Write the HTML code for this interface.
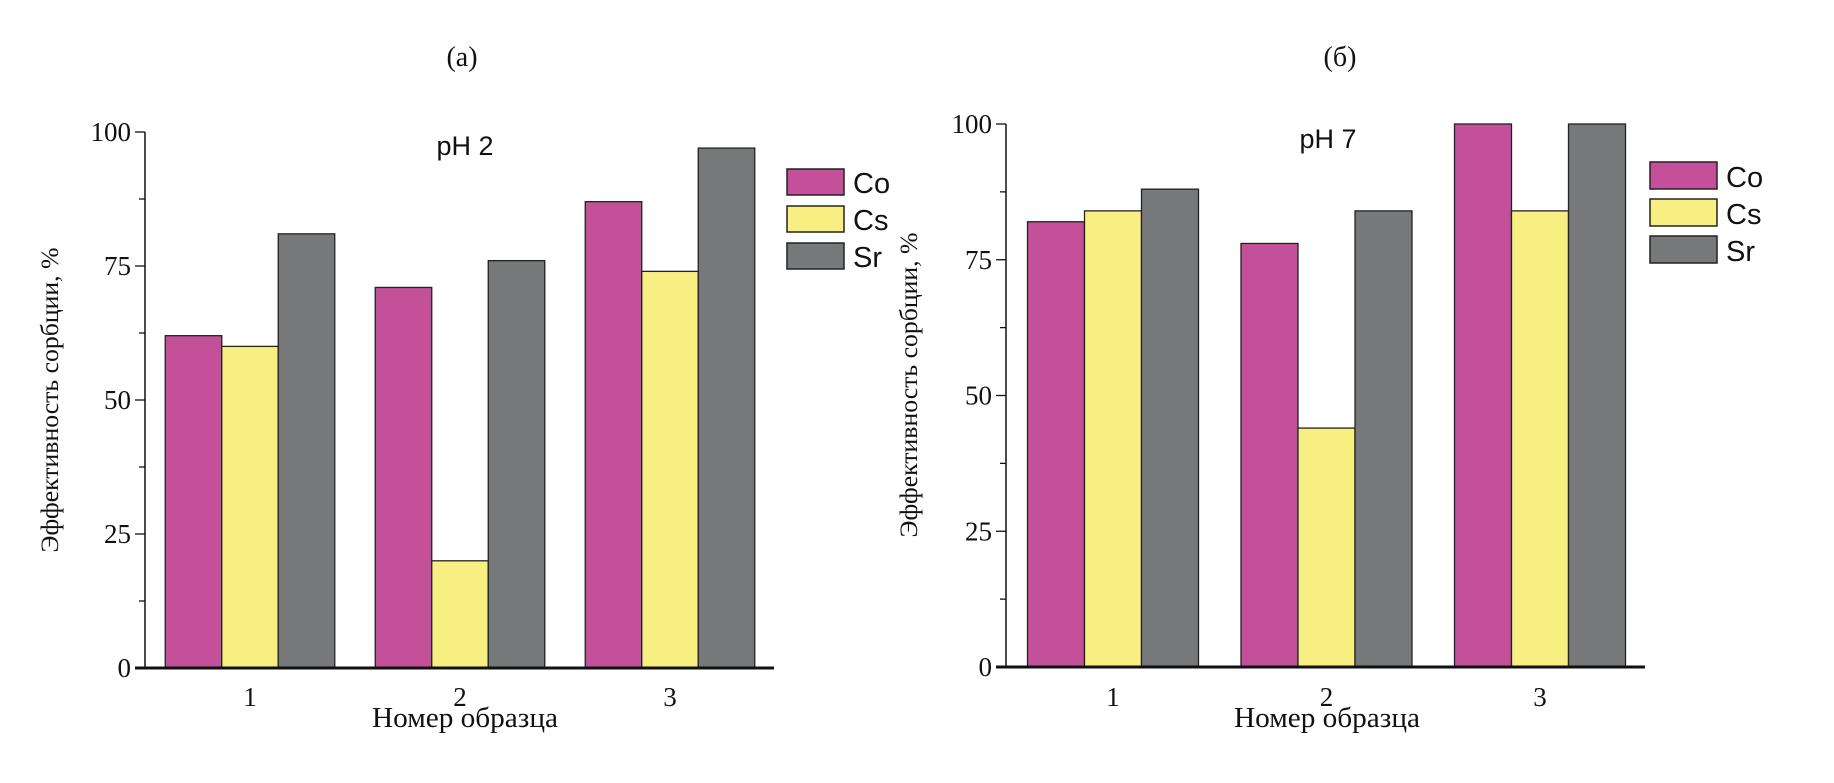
<!DOCTYPE html>
<html><head><meta charset="utf-8"><style>
body{margin:0;background:#fff;}
svg{display:block;}
text{font-family:"Liberation Serif",serif;fill:#111;}
.sans{font-family:"Liberation Sans",sans-serif;}
</style></head><body>
<svg id="fig" width="1834" height="783" viewBox="0 0 1834 783"></svg>
<script>
const categories = ["1","2","3"];
const seriesNames = ["Co","Cs","Sr"];
const coA = [62,71,87];
const csA = [60,20,74];
const srA = [81,76,97];
const coB = [82,78,100];
const csB = [84,44,84];
const srB = [88,84,100];
const yTicks = [0,25,50,75,100];
const colors = ["#c5509a","#f7ef82","#77787a"];

const NS="http://www.w3.org/2000/svg";
const svg=document.getElementById('fig');
function mk(tag,attrs,parent){const e=document.createElementNS(NS,tag);for(const k in attrs)e.setAttribute(k,attrs[k]);(parent||svg).appendChild(e);return e;}

function panel(p){
  const g=mk('g',{});
  
  
  const ys=v=>p.y0-(p.y0-p.y100)*v/100;
  const xc=i=>p.c0+i*p.step;
  const series=[p.co,p.cs,p.sr];
  series.forEach((vals,s)=>{
    vals.forEach((v,i)=>{
      const x=xc(i)+(s-1.5)*p.bw;
      const r=mk('rect',{x:x,y:ys(v),width:p.bw,height:ys(0)-ys(v),fill:colors[s],stroke:'#222','stroke-width':1.3},g);
      
      
    });
  });
  // axes
  const ya=mk('line',{x1:p.ax,y1:ys(0),x2:p.ax,y2:ys(100),stroke:'#111','stroke-width':1.5},g);
  
  
  const xa=mk('line',{x1:p.ax-10,y1:ys(0),x2:p.xend,y2:ys(0),stroke:'#111','stroke-width':3},g);
  
  
  for(let v=0;v<=100;v+=12.5){
    const major=v%25===0;
    mk('line',{x1:p.ax-(major?10:6),y1:ys(v),x2:p.ax,y2:ys(v),stroke:'#111','stroke-width':1.3},g);
  }
  yTicks.forEach(v=>{
    const t=mk('text',{x:p.ax-14,y:ys(v)+9,'text-anchor':'end','font-size':27},g);
    t.textContent=v;
    
    
  });
  categories.forEach((c,i)=>{
    const t=mk('text',{x:xc(i),y:706,'text-anchor':'middle','font-size':27},g);
    t.textContent=c;
    
    
  });
  const xt=mk('text',{x:p.xtx,y:727,'text-anchor':'middle','font-size':28,textLength:186,lengthAdjust:'spacingAndGlyphs'},g);
  xt.textContent='Номер образца';
  
  
  const yt=mk('text',{x:0,y:0,'text-anchor':'middle','font-size':25,transform:`translate(${p.ytx},${p.yty}) rotate(-90)`,textLength:305,lengthAdjust:'spacingAndGlyphs'},g);
  yt.textContent='Эффективность сорбции, %';
  
  
  const pt=mk('text',{x:p.phx,y:p.phy,'text-anchor':'middle','font-size':27,class:'sans'},g);
  pt.textContent=p.ph;
  
  
  const lt=mk('text',{x:p.ltx,y:66,'text-anchor':'middle','font-size':28},g);
  lt.textContent=p.letter;
  
  
  seriesNames.forEach((n,s)=>{
    const y=p.ly+s*p.lstep;
    const b=mk('rect',{x:p.lx,y:y,width:p.lw,height:p.lh,fill:colors[s],stroke:'#222','stroke-width':1.5},g);
    
    
    const t=mk('text',{x:p.lx+p.lw+9,y:y+p.lh-2,'font-size':29,class:'sans'},g);
    t.textContent=n;
    
    
  });
}
panel({name:'chart-ph2',co:coA,cs:csA,sr:srA,y0:668,y100:132,c0:250,step:210,bw:56.5,ax:145,xend:774,
  xtx:465,ytx:58,yty:400,ph:'pH  2',phx:465,phy:155,letter:'(a)',ltx:462,lx:787,lw:57,lh:26,ly:169,lstep:37});
panel({name:'chart-ph7',co:coB,cs:csB,sr:srB,y0:667,y100:124,c0:1113,step:213.5,bw:57,ax:1006,xend:1645,
  xtx:1327,ytx:917,yty:385,ph:'pH  7',phx:1328,phy:148,letter:'(б)',ltx:1340,lx:1650,lw:67,lh:27,ly:162,lstep:37});
</script>
</body></html>
